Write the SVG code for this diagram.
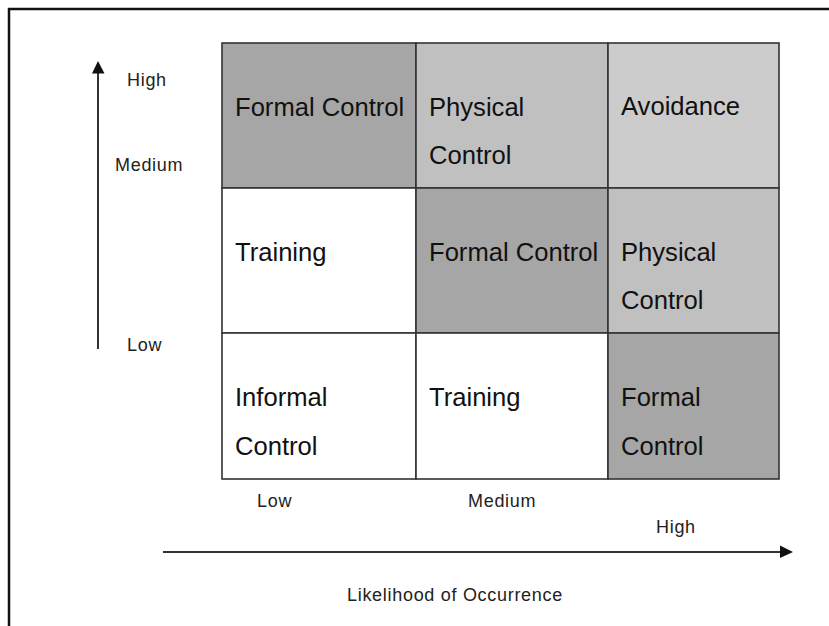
<svg xmlns="http://www.w3.org/2000/svg" width="829" height="626" viewBox="0 0 829 626">
<style>
.cell{stroke:#333;stroke-width:1.6}
.dark{fill:#a6a6a6}
.mid{fill:#c0c0c0}
.light{fill:#cccccc}
.white{fill:#ffffff}
.ct{font-family:"Liberation Sans",Arial,sans-serif;font-size:25.6px;fill:#111}
.lb{font-family:"Liberation Sans",Arial,sans-serif;font-size:18px;letter-spacing:0.7px;fill:#222}
.ax{stroke:#333;stroke-width:2;fill:none}
</style>
<rect width="829" height="626" fill="#ffffff"/>
<path d="M9,626 V9 H829" fill="none" stroke="#111" stroke-width="2.5"/>
<g id="cell-r1c1"><rect class="cell dark" x="222" y="43" width="194" height="145"/><text class="ct" x="235" y="116">Formal Control</text></g>
<g id="cell-r1c2"><rect class="cell mid" x="416" y="43" width="192" height="145"/><text class="ct" x="429" y="116">Physical</text><text class="ct" x="429" y="164">Control</text></g>
<g id="cell-r1c3"><rect class="cell light" x="608" y="43" width="171" height="145"/><text class="ct" x="621" y="115">Avoidance</text></g>
<g id="cell-r2c1"><rect class="cell white" x="222" y="188" width="194" height="145"/><text class="ct" x="235" y="261">Training</text></g>
<g id="cell-r2c2"><rect class="cell dark" x="416" y="188" width="192" height="145"/><text class="ct" x="429" y="261">Formal Control</text></g>
<g id="cell-r2c3"><rect class="cell mid" x="608" y="188" width="171" height="145"/><text class="ct" x="621" y="261">Physical</text><text class="ct" x="621" y="309">Control</text></g>
<g id="cell-r3c1"><rect class="cell white" x="222" y="333" width="194" height="146"/><text class="ct" x="235" y="406">Informal</text><text class="ct" x="235" y="455">Control</text></g>
<g id="cell-r3c2"><rect class="cell white" x="416" y="333" width="192" height="146"/><text class="ct" x="429" y="406">Training</text></g>
<g id="cell-r3c3"><rect class="cell dark" x="608" y="333" width="171" height="146"/><text class="ct" x="621" y="406">Formal</text><text class="ct" x="621" y="455">Control</text></g>
<g id="connectors">
<line class="ax" x1="98" y1="349" x2="98" y2="70"/>
<polygon points="98,61 92,73.5 104.5,73.5" fill="#111"/>
<line class="ax" x1="163" y1="552" x2="782" y2="552"/>
<polygon points="793,552 780,545.5 780,558" fill="#111"/>
</g>
<g id="labels">
<text class="lb" x="127" y="86">High</text>
<text class="lb" x="115" y="171">Medium</text>
<text class="lb" x="127" y="351">Low</text>
<text class="lb" x="257" y="507">Low</text>
<text class="lb" x="468" y="507">Medium</text>
<text class="lb" x="656" y="533">High</text>
<text class="lb" x="347" y="601">Likelihood of Occurrence</text>
</g>
</svg>
